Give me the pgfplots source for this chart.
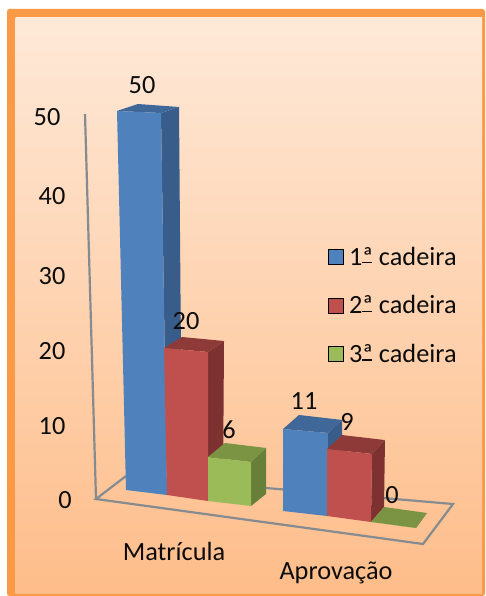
\documentclass[border=0pt]{standalone}
\usepackage{pgfplots}
\pgfplotsset{compat=1.18}
\usepackage{fontspec}
\setmainfont{Carlito}

\definecolor{frameorange}{HTML}{FB9A46}
\definecolor{panelTop}{HTML}{FEE9D8}
\definecolor{panelBottom}{HTML}{FEBD8A}
\definecolor{gridgray}{HTML}{868B90}
\definecolor{inktext}{HTML}{0C0C0C}
\definecolor{AFront}{HTML}{4F81BD}\definecolor{ASide}{HTML}{385D8A}\definecolor{ATop}{HTML}{3F6797}
\definecolor{BFront}{HTML}{C0504D}\definecolor{BSide}{HTML}{7D3130}\definecolor{BTop}{HTML}{8E3A38}
\definecolor{CFront}{HTML}{9BBB59}\definecolor{CSide}{HTML}{677F38}\definecolor{CTop}{HTML}{7A9443}

% Square key for the legend, with the gap before its text
\pgfplotsset{legend image code/.code={\fill[#1] (0pt,-7.5pt) rectangle (15pt,7.5pt);\path (20.5pt,0pt);}}

% Underlined ordinal indicator
\newcommand{\orda}{\leavevmode\rlap{\rule[0.07em]{0.36em}{0.05em}}ª}

% Reads one bar corner as base x/base y/lift x/lift y, where the lift is the
% shift per unit of value, and stores its foot and its top under a letter.
\def\readcorner#1/#2/#3/#4\relax#5{%
  \expandafter\def\csname #5fx\endcsname{#1}%
  \expandafter\def\csname #5fy\endcsname{#2}%
  \pgfmathparse{#1+\cubevalue*(#3)}\expandafter\let\csname #5tx\endcsname\pgfmathresult
  \pgfmathparse{#2+\cubevalue*(#4)}\expandafter\let\csname #5ty\endcsname\pgfmathresult
}
% Bar drawn in three faces: series letter, value, then the corners
% front left, front right, back right, back left.
\newcommand{\cube}[6]{%
  \def\cubevalue{#2}%
  \readcorner#3\relax{P}\readcorner#4\relax{Q}\readcorner#5\relax{R}\readcorner#6\relax{S}%
  \addplot[fill=#1Side,draw=none,forget plot] coordinates
    {(\Qfx,\Qfy) (\Rfx,\Rfy) (\Rtx,\Rty) (\Qtx,\Qty) (\Qfx,\Qfy)};
  \addplot[fill=#1Top,draw=none,forget plot] coordinates
    {(\Ptx,\Pty) (\Qtx,\Qty) (\Rtx,\Rty) (\Stx,\Sty) (\Ptx,\Pty)};
  \addplot[fill=#1Front,draw=none,forget plot] coordinates
    {(\Pfx,\Pfy) (\Qfx,\Qfy) (\Qtx,\Qty) (\Ptx,\Pty) (\Pfx,\Pfy)};
}
\newcommand{\chartlabel}[3]{\node[text=inktext,inner sep=0pt,font=\fontsize{26.3}{30}\selectfont] at (axis cs:#1,#2) {#3};}

\begin{document}
\begin{tikzpicture}
\begin{axis}[
  scale only axis,width=485pt,height=596pt,
  xmin=0,xmax=485,ymin=0,ymax=596,y dir=reverse,
  hide axis,clip=false,
  legend style={at={(0.6763,0.5863)},anchor=north west,draw=none,fill=none,
    font=\fontsize{26.3}{30}\selectfont,text=inktext,inner sep=0pt,row sep=29pt,
    nodes={inner sep=0pt,anchor=west}},
]
% Page, frame and panel
\fill[white] (axis cs:0,0) rectangle (axis cs:485,596);
\fill[frameorange,rounded corners=2.5pt] (axis cs:7,9) rectangle (axis cs:485,596);
\shade[top color=panelTop,bottom color=panelBottom] (axis cs:15.5,17.5) rectangle (axis cs:482,593);

\addlegendimage{fill=AFront}
\addlegendimage{fill=BFront}
\addlegendimage{fill=CFront}

% Back wall edge and floor outline
\addplot[gridgray,line width=2.2pt,forget plot] coordinates {(85,114) (96,499)};
\addplot[gridgray,line width=2.2pt,forget plot] coordinates {(126,476) (96,499) (423,544) (453,504) (126,476)};

% Matrícula
\cube{A}{50}{126/490/-.18/-7.58}{167/495/-.12/-7.64}{182/483/-.06/-7.52}{141/478/-.06/-7.48}
\cube{B}{20}{167/495/-.15/-7.35}{208/501/0/-7.45}{223/489/.05/-7.4}{182/483/0/-7.3}
\cube{C}{6}{208/501/0/-7.33}{251/506/0/-7.33}{266/494/0/-7.67}{223/489/.33/-7.67}
% Aprovação
\cube{A}{11}{283/511/0/-7.45}{327/516/.09/-7.55}{342/504/0/-7.64}{297/499/.18/-7.64}
\cube{B}{9}{327/516/0/-7.44}{371/522/.11/-7.56}{384/507/.11/-7.44}{340/501/.22/-7.33}
\cube{C}{0}{371/522/0/-7.4}{416/528/0/-7.4}{427/513/0/-7.4}{384/507/0/-7.4}

% Value labels
\chartlabel{142}{85}{50}
\chartlabel{186}{321}{20}
\chartlabel{229}{430}{6}
\chartlabel{304}{401}{11}
\chartlabel{347}{422}{9}
\chartlabel{392}{495}{0}
% Value scale
\chartlabel{47}{117}{50}
\chartlabel{52}{196}{40}
\chartlabel{52}{276}{30}
\chartlabel{52}{351}{20}
\chartlabel{52}{426}{10}
\chartlabel{65}{500}{0}
% Categories
\chartlabel{174}{551}{Matrícula}
\chartlabel{336}{573}{Aprovação}

\legend{1\orda{} cadeira,2\orda{} cadeira,3\orda{} cadeira}
\end{axis}
\end{tikzpicture}
\end{document}
